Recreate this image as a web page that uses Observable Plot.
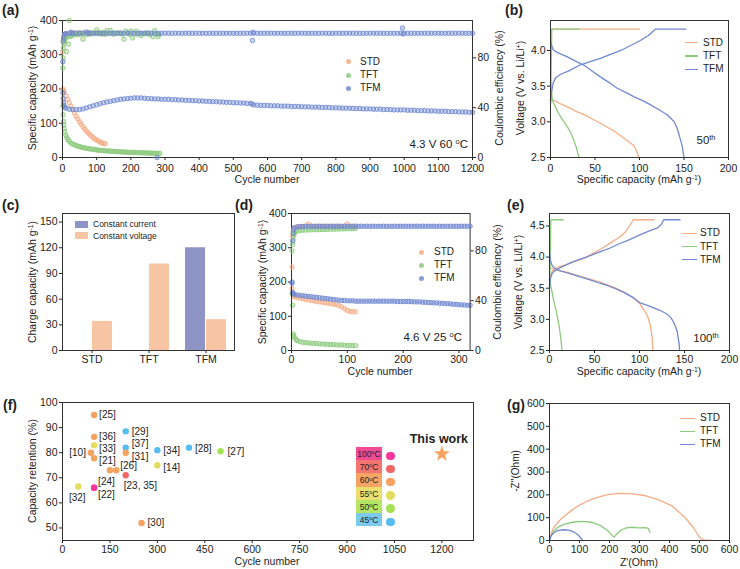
<!DOCTYPE html>
<html><head><meta charset="utf-8">
<script src="https://cdn.jsdelivr.net/npm/d3@7"></script>
<script src="https://cdn.jsdelivr.net/npm/@observablehq/plot@0.6"></script>
<style>
body{margin:0;background:#fff;}
#root{position:relative;width:740px;height:569px;overflow:hidden;font-family:"Liberation Sans",Arial,sans-serif;color:#222;}
.abs{position:absolute;white-space:nowrap;line-height:1;}
sup{font-size:0.65em;vertical-align:0;position:relative;top:-0.5em;}
</style></head><body><div id="root"></div><script>
// ---------------- colours ----------------
const C = {STD: "#f5ad85", TFT: "#8ccb7e", TFM: "#7189d2", CC: "#8e95c6", CV: "#f7c4a4"};

// ---------------- (a) 4.3 V 60 °C cycling ----------------
const aTicksX = [0,100,200,300,400,500,600,700,800,900,1000,1100,1200];
const aTicksY = [0,100,200,300,400];
const aTicksCE = [0,40,80];
const aSTDcap = [[1,200],[3,195],[5,190],[10,180],[15,170],[20,160],[25,150],[30,140],[35,130],[40,120],[45,112],[50,104],[55,97],[60,90],[65,83],[70,77],[75,72],[80,67],[85,62],[90,58],[95,54],[100,51],[105,48],[110,45],[115,43],[120,41],[125,40]];
const aTFTcap = [[1,150],[2,125],[3,105],[4,95],[5,85],[7,75],[10,65],[13,58],[16,52],[20,47],[25,42],[30,39],[35,37],[40,35],[45,33],[50,32],[55,30],[60,29],[65,28],[70,27],[75,26],[80,25],[85,24.5],[90,24],[95,23],[100,22],[105,21.5],[110,21],[115,20.5],[120,20],[125,19.5],[130,19],[135,19],[140,18.5],[145,18],[150,18],[155,17.5],[160,17],[165,17],[170,16.5],[175,16],[180,16],[185,16],[190,15.5],[195,15],[200,15],[205,15],[210,14.5],[215,14.5],[220,14],[225,14],[230,14],[235,13.5],[240,13.5],[245,13.5],[250,13],[255,13],[260,13],[265,12.5],[270,12.5],[275,12],[280,12],[285,12]];
const aTFMcap = [[1,188],[2,172],[3,160],[4,152],[6,147],[10,144],[20,141],[30,140],[40,140],[50,140],[60,142],[70,145],[80,148],[90,151],[100,154],[110,157],[120,160],[130,162],[140,164],[150,166],[160,168],[170,170],[180,171],[190,172],[200,173],[210,174],[220,174],[230,174],[240,173],[250,172],[260,172],[270,171],[280,171],[290,170],[300,170],[310,170],[320,169],[330,169],[340,168],[350,168],[360,167],[370,167],[380,166],[390,166],[400,165],[410,165],[420,164],[430,164],[440,163],[450,163],[460,162],[470,162],[480,161],[490,161],[500,160],[510,160],[520,159],[530,159],[540,158],[550,158],[555,156],[560,153],[570,153],[580,152],[590,152],[600,152],[610,151],[620,151],[630,151],[640,150],[650,150],[660,150],[670,149],[680,149],[690,149],[700,148],[710,148],[720,148],[730,147],[740,147],[750,147],[760,146],[770,146],[780,146],[790,145],[800,145],[810,145],[820,144],[830,144],[840,144],[850,143],[860,143],[870,143],[880,142],[890,142],[900,142],[910,141],[920,141],[930,141],[940,140],[950,140],[960,140],[970,139],[980,139],[990,139],[1000,139],[1010,138],[1020,138],[1030,138],[1040,137],[1050,137],[1060,137],[1070,136],[1080,136],[1090,136],[1100,135],[1110,135],[1120,135],[1130,134],[1140,134],[1150,134],[1160,133],[1170,133],[1180,133],[1190,132],[1200,132]];
const aSTDce = [[1,85],[2,93],[3,96],[5,98.2],[8,99],[10,99.3],[15,99.5],[20,99.7],[25,100],[30,99.8],[35,99.9],[40,99.8],[45,100],[50,99.8],[55,99.9],[60,99.8],[65,100],[70,99.8],[75,99.9],[80,99.8],[85,100],[90,99.8],[95,99.9],[100,99.8],[105,100],[110,99.8],[115,99.9],[120,99.8],[125,99.8]];
const aTFTce = [[1,72],[2,80],[3,88],[4,91],[6,93],[8,95],[10,96],[12,85],[15,97],[18,91],[20,110],[22,97],[25,98],[28,99.5],[30,98],[35,100],[40,99],[45,98.5],[50,100],[55,99],[60,95],[65,99.5],[70,98.5],[75,100],[80,99],[85,100],[90,99.5],[95,100],[100,102.5],[105,99.5],[110,100],[115,99],[120,100.5],[125,99],[130,102],[135,99.5],[140,102],[145,100],[150,99],[155,100],[160,99.5],[165,100],[170,100],[175,99],[180,95],[185,101.5],[190,100],[195,99],[200,101.5],[205,96],[210,99.5],[215,101.5],[220,99],[225,100],[230,98],[235,99.5],[240,99.5],[245,100],[250,100],[255,98.5],[260,99.5],[265,97],[270,102],[275,99],[280,97],[283,99]];
const aTFMce = [[1,77],[2,93.5],[3,96],[5,98.5],[8,99.2],[10,99.4],[20,99.5],[25,100.6],[30,99.6],[40,99.7],[50,99.7],[60,99.8],[70,100.8],[75,99.8],[80,99.8],[90,99.7],[100,99.8],
[110,99.8],[120,99.7],[130,99.8],[140,99.8],[150,99.7],[160,99.8],[170,99.8],[180,99.7],[190,99.8],[200,99.8],
[210,99.8],[220,99.7],[230,99.8],[240,99.8],[250,99.7],[260,99.8],[270,99.8],[277,0],[280,99.7],[290,99.8],[300,99.8],
[310,99.8],[320,99.7],[330,99.8],[340,99.8],[350,99.7],[360,99.8],[370,99.8],[380,99.7],[390,99.8],[400,99.8],
[410,99.8],[420,99.7],[430,99.8],[440,99.8],[450,99.7],[460,99.8],[470,99.8],[480,99.7],[490,99.8],[500,99.8],
[510,99.8],[520,99.7],[530,99.8],[540,99.8],[550,99.7],[556,94],[558,100.5],[560,99.8],[570,99.8],[580,99.7],[590,99.8],[600,99.8],
[610,99.8],[620,99.7],[630,99.8],[640,99.8],[650,99.7],[660,99.8],[670,99.8],[680,99.7],[690,99.8],[700,99.8],
[710,99.8],[720,99.7],[730,99.8],[740,99.8],[750,99.7],[760,99.8],[770,99.8],[780,99.7],[790,99.8],[800,99.8],
[810,99.8],[820,99.7],[830,99.8],[840,99.8],[850,99.7],[860,99.8],[870,99.8],[880,99.7],[890,99.8],[900,99.8],
[910,99.8],[920,99.7],[930,99.8],[940,99.8],[950,99.7],[960,99.8],[970,99.8],[980,99.7],[990,99.8],[995,104],[997,99.2],[1000,99.8],
[1010,99.8],[1020,99.7],[1030,99.8],[1040,99.8],[1050,99.7],[1060,99.8],[1070,99.8],[1080,99.7],[1090,99.8],[1100,99.8],
[1110,99.8],[1120,99.7],[1130,99.8],[1140,99.8],[1150,99.7],[1160,99.8],[1170,99.8],[1180,99.7],[1190,99.8],[1200,99.7]];

// ---------------- (b) 50th cycle voltage profiles ----------------
const bTicksX = [0,50,100,150,200];
const bTicksY = [2.5,3.0,3.5,4.0];
const bSTDch  = [[0,3.3],[0.5,3.8],[1,4.3],[100,4.3]];
const bSTDdis = [[0,3.32],[2,3.31],[10,3.26],[19,3.21],[30,3.14],[38,3.1],[47,3.04],[56,2.98],[66,2.91],[75,2.84],[85,2.75],[94,2.66],[97,2.58],[99,2.5]];
const bTFTch  = [[0,3.4],[0.5,3.6],[1,4.0],[1.5,4.3],[33,4.3]];
const bTFTdis = [[0,3.58],[1,3.45],[2,3.31],[5,3.22],[9,3.12],[14,3.02],[19,2.93],[23,2.84],[26,2.75],[29,2.64],[32,2.5]];
const bTFMch  = [[0,3.25],[1,3.4],[3,3.55],[6,3.62],[12,3.67],[20,3.71],[32,3.79],[44,3.84],[56,3.89],[68,3.95],[79,4.0],[90,4.07],[101,4.14],[110,4.21],[118,4.3],[152,4.3]];
const bTFMdis = [[0,4.14],[1,4.08],[3,4.01],[8,3.97],[19,3.91],[28,3.85],[38,3.79],[47,3.71],[56,3.63],[66,3.55],[75,3.47],[85,3.41],[94,3.35],[103,3.3],[112,3.24],[122,3.17],[131,3.1],[136,3.04],[139,3.0],[142,2.92],[144,2.84],[146,2.75],[148,2.66],[149,2.58],[150,2.5]];

// ---------------- (c) charge capacity split ----------------
const cMaterials = ["STD","TFT","TFM"];
const cTypes = ["Constant current","Constant voltage"];
const cCC = [0, 0, 120];
const cCV = [34, 101, 36];
const cTicksY = [0,30,60,90,120,150];

// ---------------- (d) 4.6 V 25 °C cycling ----------------
const dTicksX = [0,100,200,300];
const dTicksY = [0,100,200,300,400];
const dTicksCE = [0,40,80];
const dSTDcap = [[1,180],[2,165],[3,160],[5,157],[10,155],[15,153],[20,151],[25,149],[30,148],[35,146],[40,145],[45,143],[50,142],[55,141],[60,140],[65,138],[70,137],[75,135],[80,134],[85,131],[90,127],[95,122],[100,117],[105,114],[110,113],[115,113]];
const dTFTcap = [[1,165],[2,132],[3,48],[4,44],[5,38],[8,32],[10,29],[15,26],[20,24],[25,23],[30,22],[35,21.5],[40,21],[45,20],[50,19.5],[55,19],[60,18.5],[65,18],[70,17.5],[75,17],[80,16.5],[85,16],[90,16],[95,15.5],[100,15],[105,15],[110,14.5],[115,14]];
const dTFMcap = [[1,200],[2,170],[3,166],[5,164],[10,162],[15,161],[20,160],[25,159],[30,158],[35,157],[40,156],[45,155],[50,154],[55,153],[60,152],[65,151],[70,150],[75,149],[80,148],[85,147],[90,146],[95,146],[100,145],[105,145],[110,145],[115,144],[120,144],[125,144],[130,144],[135,144],[140,144],[145,144],[150,144],[155,144],[160,144],[165,144],[170,144],[175,144],[180,144],[185,144],[190,143],[195,143],[200,143],[205,143],[210,143],[215,143],[220,142],[225,142],[230,142],[235,141],[240,141],[245,140],[250,140],[255,139],[260,139],[265,138],[270,138],[275,137],[280,137],[285,136],[290,135],[295,135],[300,134],[305,133],[310,133],[315,132],[320,132]];
const dSTDce = [[1,67],[2,92],[3,96],[5,98.5],[10,99.3],[15,99.5],[20,99.6],[25,99.7],[30,101.5],[35,99.7],[40,99.8],[45,99.7],[50,99.8],[55,99.7],[60,99.8],[65,99.7],[70,99.8],[75,99.7],[80,99.8],[85,99.7],[90,99.8],[95,99.7],[100,101.5],[105,99.8],[110,99.7],[115,99.8]];
const dTFTce = [[1,80],[2,85],[3,89],[4,92],[5,94],[7,95.5],[10,96],[15,96.4],[20,96.6],[25,96.7],[30,96.8],[35,96.9],[40,97],[45,97],[50,97.1],[55,97.2],[60,97.2],[65,97.3],[70,97.4],[75,97.4],[80,97.5],[85,97.6],[90,97.6],[95,97.7],[100,97.8],[105,97.8],[110,97.9],[115,98]];
const dTFMce = [[1,54],[2,88],[3,94],[4,97],[5,98.5],[10,99.2],[15,99.5],[20,99.6],[25,99.7],[30,99.7],[35,99.8],[40,99.7],[45,99.8],[50,99.7],[55,99.8],[60,99.7],[65,99.8],[70,99.7],[75,99.8],[80,99.7],[85,99.8],[90,99.7],[95,99.8],[100,99.7],[105,99.8],[110,99.7],[115,99.8],[120,99.7],[125,99.8],[130,99.7],[135,99.8],[140,99.7],[145,99.8],[150,99.7],[155,99.8],[160,99.7],[165,99.8],[170,99.7],[175,99.8],[180,99.7],[185,99.8],[190,99.7],[195,99.8],[200,99.7],[205,99.8],[210,99.7],[215,99.8],[220,99.7],[225,99.8],[230,99.7],[235,99.8],[240,99.7],[245,99.8],[250,99.7],[255,99.8],[260,99.7],[265,99.8],[270,99.7],[275,99.8],[280,99.7],[285,99.8],[290,99.7],[295,99.8],[300,99.7],[305,99.8],[310,99.7],[315,99.8],[320,99.7]];

// ---------------- (e) 100th cycle voltage profiles ----------------
const eTicksX = [0,50,100,150,200];
const eTicksY = [2.5,3.0,3.5,4.0,4.5];
const eSTDch  = [[0,3.55],[1,3.7],[3,3.77],[6,3.81],[12,3.85],[19,3.88],[28,3.93],[38,3.98],[47,4.05],[57,4.13],[67,4.22],[77,4.31],[84,4.4],[89,4.5],[93,4.6],[116,4.6]];
const eSTDdis = [[0,3.85],[2,3.82],[6,3.8],[12,3.78],[19,3.76],[28,3.72],[37,3.68],[47,3.64],[56,3.6],[65,3.55],[74,3.5],[84,3.43],[93,3.35],[100,3.26],[105,3.15],[109,3.05],[112,2.91],[114,2.71],[115,2.5]];
const eTFTch  = [[0,3.5],[0.5,3.8],[1,4.2],[1.5,4.6],[15,4.6]];
const eTFTdis = [[0,3.62],[2,3.5],[4,3.35],[6,3.22],[7.5,3.14],[9,3.02],[11,2.87],[12.5,2.7],[14,2.5]];
const eTFMch  = [[0,3.5],[1,3.65],[3,3.74],[6,3.78],[11,3.82],[16,3.86],[22,3.9],[31,3.95],[41,4.0],[50,4.05],[59,4.1],[68,4.15],[77,4.21],[89,4.28],[101,4.36],[111,4.42],[120,4.47],[124,4.52],[127,4.6],[145,4.6]];
const eTFMdis = [[0,4.07],[1,3.95],[3,3.86],[6,3.82],[12,3.78],[19,3.75],[28,3.71],[37,3.67],[46,3.63],[56,3.58],[65,3.54],[74,3.49],[83,3.43],[93,3.35],[100,3.27],[108,3.23],[115,3.19],[122,3.15],[130,3.09],[134,3.04],[137,2.98],[140,2.88],[142,2.8],[143,2.7],[144,2.61],[144.5,2.5]];

// ---------------- (f) literature comparison ----------------
const fTicksX = [0,150,300,450,600,750,900,1050,1200];
const fTicksY = [50,60,70,80,90,100];
const fRefs      = ["[25]","[29]","[36]","[37]","[33]","[34]","[28]","[27]","[10]","[31]","[21]","[14]","","[26]","[23, 35]","[24]","[22]","[32]","[30]"];
const fCycles    = [100,200,100,200,100,300,400,500,90,200,100,300,150,170,200,100,100,50,250];
const fRetention = [95,88.5,86.3,82,83,81,82,80.6,80,80,77.8,75,73,73,71,66,66,66.5,52];
const fTempC     = [60,45,60,45,55,45,45,50,60,60,60,55,60,60,70,100,100,55,60];
const fThisWork  = {cycles: 1200, retention: 79.5, temp: 60, label: "This work"};
const fTemps     = [100,70,60,55,50,45];
const fTempColors= ["#f7379a","#f26868","#f5a261","#e2dd60","#a5e157","#55bdf0"];
const fTempBoxes = ["#f24b96","#f47470","#f6a567","#eadf6e","#b5e565","#7ccaee"];
// label placement (style only): [dx, dy, anchor]
const fLabelPlace = [[5,0,"start"],[6,0,"start"],[5,0,"start"],[6,-4,"start"],[5,4,"start"],[6,1,"start"],[6,1,"start"],[7,1,"start"],[-5,0,"end"],[6,4,"start"],[5,3,"start"],[6,3,"start"],[0,0,"start"],[4,-4,"start"],[-2,11,"start"],[4,-6,"start"],[4,7,"start"],[-1,11,"middle"],[6,0,"start"]];

// ---------------- (g) Nyquist plots ----------------
const gTicks = [0,100,200,300,400,500,600];
const gSTD = [[0,0],[3,20],[10,45],[19,66],[35,90],[52,109],[75,133],[97,153],[125,172],[152,186],[190,200],[230,206],[270,205],[318,197],[360,180],[407,153],[451,102],[479,58],[496,22],[505,8],[518,2],[536,1]];
const gTFT = [[0,0],[5,20],[15,42],[30,60],[50,72],[80,81],[108,84],[140,80],[170,66],[195,42],[210,20],[215,15],[222,25],[238,45],[255,55],[275,58],[300,55],[320,56],[330,52],[333,40],[335,35]];
const gTFM = [[0,0],[5,20],[15,35],[30,44],[47,47],[65,45],[80,38],[95,25],[105,10],[110,2]];

// ================= drawing =================
const root = document.getElementById("root");
const FONT = '"Liberation Sans", Arial, sans-serif';
function put(el, left, top) { el.style.position = "absolute"; el.style.left = left + "px"; el.style.top = top + "px"; root.appendChild(el); }
function txt(html, x, y, o = {}) {
  const d = document.createElement("div"); d.className = "abs"; d.innerHTML = html;
  d.style.left = x + "px"; d.style.top = y + "px";
  d.style.fontSize = (o.size || 10.5) + "px";
  if (o.bold) d.style.fontWeight = "bold";
  const ax = o.anchor === "start" ? "0" : o.anchor === "end" ? "-100%" : "-50%";
  d.style.transform = `translate(${ax},-50%)` + (o.rotate ? ` rotate(${o.rotate}deg)` : "");
  root.appendChild(d);
}
function box(x, y, w, h, color, radius, opacity) {
  const d = document.createElement("div");
  Object.assign(d.style, {position: "absolute", left: x + "px", top: y + "px", width: w + "px", height: h + "px", background: color, borderRadius: radius || "0", opacity: opacity == null ? 1 : opacity});
  root.appendChild(d);
}
const base = (o) => Plot.plot(Object.assign({style: {fontFamily: FONT, fontSize: "10.5px", color: "#222", background: "transparent", overflow: "visible"}}, o));
const frame = () => Plot.frame({stroke: "#333", strokeWidth: 1});
const dotOpt = (c) => ({x: d => d[0], y: d => d[1], r: 2.2, fill: c, fillOpacity: 0.35, stroke: c, strokeWidth: 0.9});
const lineOpt = (c) => ({x: d => d[0], y: d => d[1], stroke: c, strokeWidth: 1.3});
const ax = {tickSize: 3, tickPadding: 2, label: null};
const intFmt = d3.format("d");

// ---- (a) ----
put(base({width: 520, height: 185, marginLeft: 62, marginRight: 48, marginTop: 20, marginBottom: 28,
  x: {domain: [0, 1200], ticks: aTicksX, tickFormat: intFmt, ...ax, tickPadding: 4},
  y: {domain: [0, 400], ticks: aTicksY, ...ax},
  marks: [Plot.dot(aSTDcap, dotOpt(C.STD)), Plot.dot(aTFTcap, dotOpt(C.TFT)), Plot.dot(aTFMcap, dotOpt(C.TFM)), frame()]}), 0, 0);
put(base({width: 520, height: 185, marginLeft: 62, marginRight: 48, marginTop: 20, marginBottom: 28,
  x: {domain: [0, 1200], axis: null},
  y: {domain: [0, 110], ticks: aTicksCE, axis: "right", ...ax},
  marks: [Plot.dot(aSTDce, dotOpt(C.STD)), Plot.dot(aTFTce, dotOpt(C.TFT)), Plot.dot(aTFMce, dotOpt(C.TFM))]}), 0, 0);
txt("Specific capacity (mAh g<sup>-1</sup>)", 32, 88, {rotate: -90});
txt("Coulombic efficiency (%)", 499, 88, {rotate: -90});
txt("Cycle number", 267, 179);
txt("4.3 V 60 <sup>o</sup>C", 468, 145, {size: 11.5, anchor: "end"});
[["STD", C.STD], ["TFT", C.TFT], ["TFM", C.TFM]].forEach(([n, c], i) => {
  box(345.5, 59.2 + i * 13.3, 5, 5, c, "50%", 0.85); txt(n, 360, 61.7 + i * 13.3, {size: 10, anchor: "start"});
});

// ---- (b) ----
put(base({width: 240, height: 185, marginLeft: 50, marginRight: 12, marginTop: 20, marginBottom: 28,
  x: {domain: [0, 200], ticks: bTicksX, ...ax, tickPadding: 4},
  y: {domain: [2.5, 4.42], ticks: bTicksY, tickFormat: d3.format(".1f"), ...ax},
  marks: [Plot.line(bSTDch, lineOpt(C.STD)), Plot.line(bSTDdis, lineOpt(C.STD)), Plot.line(bTFTch, lineOpt(C.TFT)), Plot.line(bTFTdis, lineOpt(C.TFT)), Plot.line(bTFMch, lineOpt(C.TFM)), Plot.line(bTFMdis, lineOpt(C.TFM)), frame()]}), 500, 0);
txt("Voltage (V vs. Li/Li<sup>+</sup>)", 520, 88, {rotate: -90});
txt("Specific capacity (mAh g<sup>-1</sup>)", 639, 179);
txt("50<sup>th</sup>", 706, 141, {size: 11.5});
[["STD", C.STD], ["TFT", C.TFT], ["TFM", C.TFM]].forEach(([n, c], i) => {
  box(685, 42 + i * 13.3, 13, 1.4, c); txt(n, 703, 42.7 + i * 13.3, {size: 10, anchor: "start"});
});

// ---- (c) ----
const cData = [];
cMaterials.forEach((m, i) => { cData.push({material: m, type: cTypes[0], value: cCC[i]}); cData.push({material: m, type: cTypes[1], value: cCV[i]}); });
put(base({width: 250, height: 200, marginLeft: 62, marginRight: 16, marginTop: 28, marginBottom: 35,
  x: {type: "band", domain: cMaterials, padding: 0, ...ax},
  y: {domain: [0, 160], ticks: cTicksY, ...ax},
  marks: [frame()]}), 0, 185);
put(base({width: 250, height: 200, marginLeft: 62, marginRight: 16, marginTop: 28, marginBottom: 35,
  facet: {data: cData, x: "material"},
  fx: {domain: cMaterials, padding: 0, axis: null, label: null},
  x: {domain: cTypes, paddingInner: 0.045, paddingOuter: 0.318, axis: null},
  y: {domain: [0, 160], axis: null},
  color: {domain: cTypes, range: [C.CC, C.CV]},
  marks: [Plot.barY(cData, {x: "type", y: "value", fill: "type"})]}), 0, 185);
txt("Charge capacity (mAh g<sup>-1</sup>)", 32, 282, {rotate: -90});
cTypes.forEach((t, i) => { box(75, 220.5 + i * 11.7, 13, 7, i ? C.CV : C.CC); txt(t, 93, 224 + i * 11.7, {size: 8.5, anchor: "start"}); });

// ---- (d) ----
put(base({width: 265, height: 200, marginLeft: 56, marginRight: 30.4, marginTop: 28, marginBottom: 35,
  x: {domain: [0, 320], ticks: dTicksX, ...ax},
  y: {domain: [0, 400], ticks: dTicksY, ...ax},
  marks: [Plot.dot(dSTDcap, dotOpt(C.STD)), Plot.dot(dTFTcap, dotOpt(C.TFT)), Plot.dot(dTFMcap, dotOpt(C.TFM)), frame()]}), 235, 185);
put(base({width: 265, height: 200, marginLeft: 56, marginRight: 30.4, marginTop: 28, marginBottom: 35,
  x: {domain: [0, 320], axis: null},
  y: {domain: [0, 110], ticks: dTicksCE, axis: "right", ...ax},
  marks: [Plot.dot(dSTDce, dotOpt(C.STD)), Plot.dot(dTFTce, dotOpt(C.TFT)), Plot.dot(dTFMce, dotOpt(C.TFM))]}), 235, 185);
txt("Specific capacity (mAh g<sup>-1</sup>)", 262, 282, {rotate: -90});
txt("Coulombic efficiency (%)", 497, 282, {rotate: -90});
txt("Cycle number", 380, 371);
txt("4.6 V 25 <sup>o</sup>C", 462, 338, {size: 11.5, anchor: "end"});
[["STD", C.STD], ["TFT", C.TFT], ["TFM", C.TFM]].forEach(([n, c], i) => {
  box(419.2, 249.8 + i * 13, 5, 5, c, "50%", 0.85); txt(n, 434, 252.3 + i * 13, {size: 10, anchor: "start"});
});

// ---- (e) ----
put(base({width: 240, height: 200, marginLeft: 49, marginRight: 11, marginTop: 28, marginBottom: 35,
  x: {domain: [0, 200], ticks: eTicksX, ...ax},
  y: {domain: [2.5, 4.7], ticks: eTicksY, tickFormat: d3.format(".1f"), ...ax},
  marks: [Plot.line(eSTDch, lineOpt(C.STD)), Plot.line(eSTDdis, lineOpt(C.STD)), Plot.line(eTFTch, lineOpt(C.TFT)), Plot.line(eTFTdis, lineOpt(C.TFT)), Plot.line(eTFMch, lineOpt(C.TFM)), Plot.line(eTFMdis, lineOpt(C.TFM)), frame()]}), 500, 185);
txt("Voltage (V vs. Li/Li<sup>+</sup>)", 518, 282, {rotate: -90});
txt("Specific capacity (mAh g<sup>-1</sup>)", 639, 371);
txt("100<sup>th</sup>", 706, 339, {size: 11.5});
[["STD", C.STD], ["TFT", C.TFT], ["TFM", C.TFM]].forEach(([n, c], i) => {
  box(682, 232.6 + i * 13.3, 15, 1.3, c); txt(n, 700, 233.3 + i * 13.3, {size: 10, anchor: "start"});
});

// ---- (f) ----
const fData = fRefs.map((r, i) => ({ref: r, cycles: fCycles[i], retention: fRetention[i], temp: fTempC[i]}));
put(base({width: 520, height: 184, marginLeft: 62, marginRight: 47, marginTop: 17, marginBottom: 29,
  x: {domain: [0, 1300], ticks: fTicksX, tickFormat: intFmt, ...ax},
  y: {domain: [45, 100], ticks: fTicksY, ...ax},
  color: {domain: fTemps, range: fTempColors},
  marks: [
    Plot.dot(fData, {x: "cycles", y: "retention", fill: "temp", r: 3.2}),
    ...fData.map((d, i) => Plot.text([d], {x: "cycles", y: "retention", text: "ref", dx: fLabelPlace[i][0], dy: fLabelPlace[i][1], textAnchor: fLabelPlace[i][2], fontSize: 10, fill: "#222"})),
    Plot.dot([fThisWork], {x: "cycles", y: "retention", fill: "temp", symbol: "star", r: 5}),
    Plot.text([fThisWork], {x: "cycles", y: "retention", text: "label", dy: -15, dx: -3, fontSize: 12.5, fontWeight: "bold", fill: "#222"}),
    frame()]}), 0, 385);
txt("Capacity retention (%)", 32, 471, {rotate: -90});
txt("Cycle number", 267, 561);
fTemps.forEach((t, i) => {
  box(356, 447 + i * 13.2, 26, 13.2, fTempBoxes[i]);
  txt(`${t}<sup>o</sup>C`, 369, 454 + i * 13.2, {size: 8.5});
  box(386, 451.5 + i * 13.2, 8.5, 8.5, fTempColors[i], "50%");
});

// ---- (g) ----
put(base({width: 240, height: 184, marginLeft: 49, marginRight: 11, marginTop: 18, marginBottom: 29,
  x: {domain: [0, 600], ticks: gTicks, ...ax},
  y: {domain: [0, 600], ticks: gTicks, ...ax},
  marks: [Plot.line(gSTD, lineOpt(C.STD)), Plot.line(gTFT, lineOpt(C.TFT)), Plot.line(gTFM, lineOpt(C.TFM)), frame()]}), 500, 385);
txt("-Z''(Ohm)", 516, 471, {rotate: -90, size: 10});
txt("Z'(Ohm)", 639, 562);
[["STD", C.STD], ["TFT", C.TFT], ["TFM", C.TFM]].forEach(([n, c], i) => {
  box(680, 417.5 + i * 13, 15, 1.3, c); txt(n, 700, 418.3 + i * 13, {size: 10, anchor: "start"});
});

// ---- panel letters ----
[["(a)", 2, 10], ["(b)", 505, 10], ["(c)", 2, 205], ["(d)", 235, 205], ["(e)", 507, 205], ["(f)", 3, 405], ["(g)", 507, 405]]
  .forEach(([t, x, y]) => txt(t, x, y, {size: 14, bold: true, anchor: "start"}));
</script></body></html>
